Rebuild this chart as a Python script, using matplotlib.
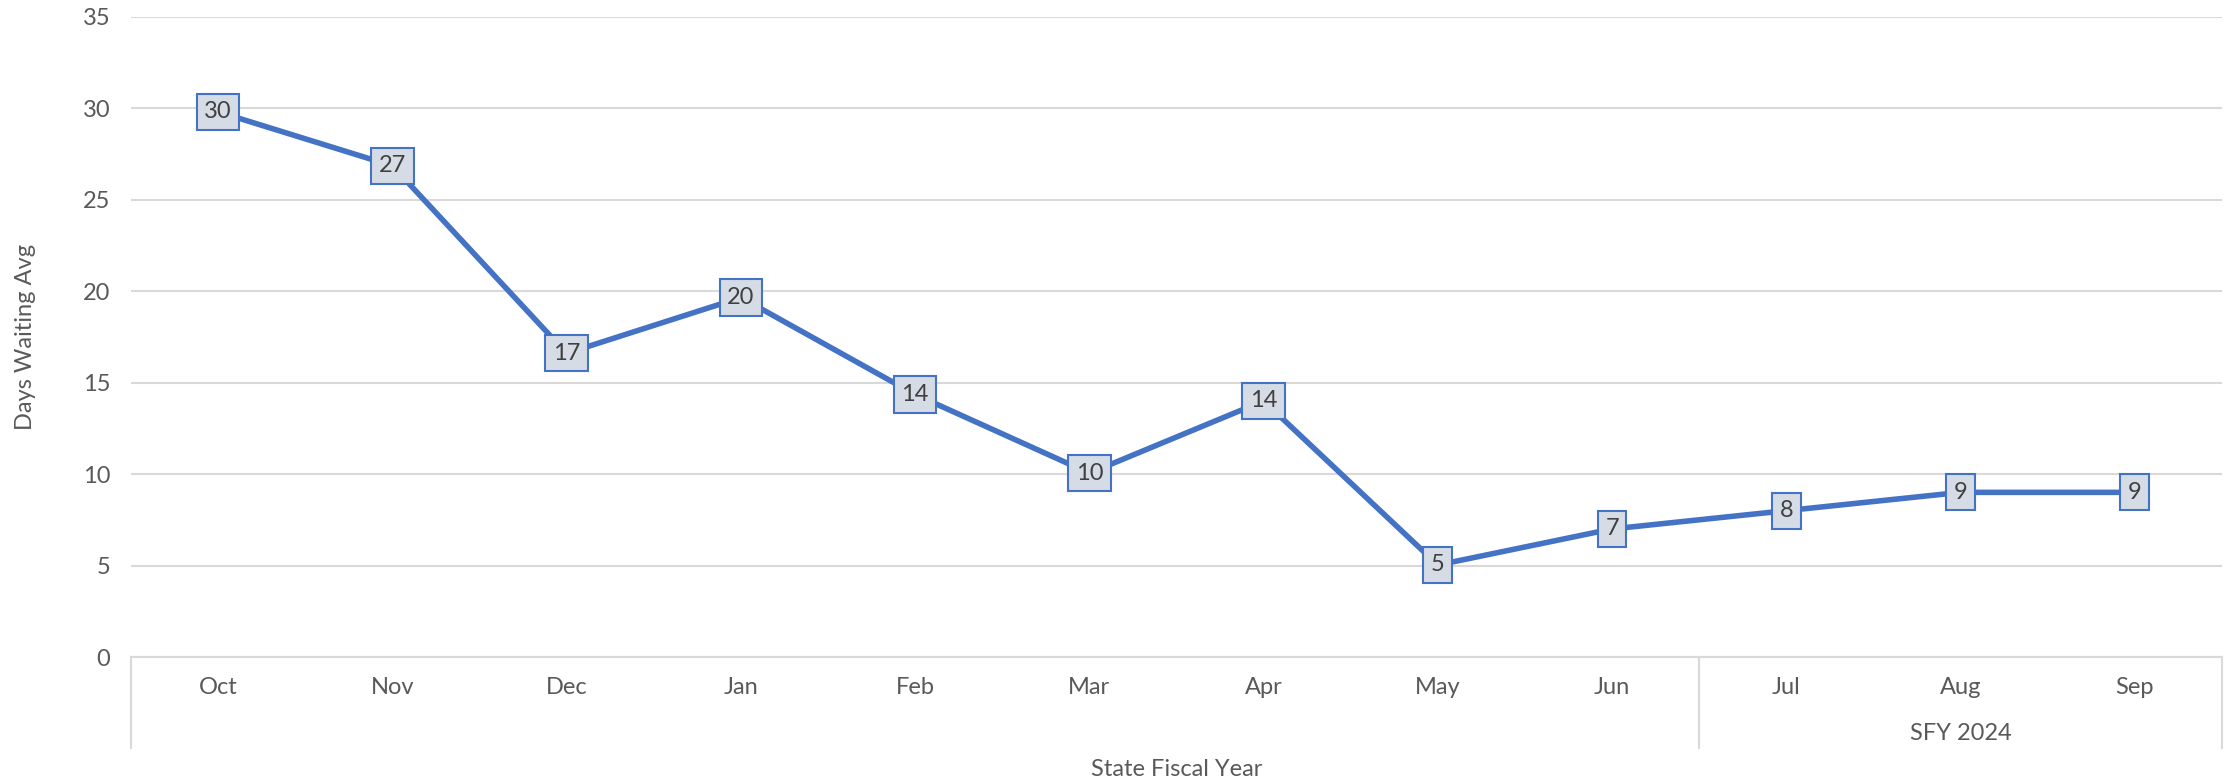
#!/usr/bin/env python3

import matplotlib
matplotlib.use("Agg")
import matplotlib.pyplot as plt

# data
months = ["Oct", "Nov", "Dec", "Jan", "Feb", "Mar", "Apr", "May", "Jun", "Jul", "Aug", "Sep"]
daysWaiting = [29.8, 26.85, 16.6, 19.65, 14.35, 10.05, 14.0, 5.03, 7.0, 8.0, 9.0, 9.0]
groupLabel = "SFY 2024"
groupStart = 9      # Jul starts the labelled group

plt.rcParams['font.family'] = ['Lato', 'DejaVu Sans']

textColor = '#595959'
gridColor = '#d9d9d9'
lineColor = '#4472C4'
fs = 17

fig = plt.figure(figsize=(22.31, 7.83), dpi=100)
ax = fig.add_axes([131/2231, 1 - 657/783, (2222 - 131)/2231, (657 - 16.7)/783])

x = list(range(len(months)))
ax.plot(x, daysWaiting, color=lineColor, linewidth=4, zorder=2)

for xi, v in zip(x, daysWaiting):
    ax.annotate(f"{v:.0f}", (xi, v), ha='center', va='center', fontsize=fs, color='#404040', zorder=3,
                bbox=dict(boxstyle='square,pad=0.32', facecolor='#D6DCE5', edgecolor=lineColor, linewidth=1.5))

ax.set_xlim(-0.5, len(months) - 0.5)
ax.set_ylim(0, 35)
ax.set_yticks(range(0, 36, 5))
ax.tick_params(axis='y', length=0, pad=15, labelsize=fs, labelcolor=textColor)
ax.set_xticks([])
ax.yaxis.grid(True, color=gridColor, linewidth=1.5)
ax.set_axisbelow(True)
for s in ['top', 'right', 'left']:
    ax.spines[s].set_visible(False)
ax.spines['bottom'].set_color(gridColor)
ax.spines['bottom'].set_linewidth(1.5)

# category labels below the axis
trans = ax.get_xaxis_transform()
for xi, m in zip(x, months):
    ax.text(xi, -0.047, m, transform=trans, ha='center', va='center', fontsize=fs, color=textColor)
ax.text((groupStart + len(months) - 1) / 2, -0.120, groupLabel, transform=trans, ha='center', va='center',
        fontsize=fs, color=textColor)

# separators of the category area
for sx in [-0.5, groupStart - 0.5, len(months) - 0.5]:
    ax.plot([sx, sx], [0, -0.142], transform=trans, color=gridColor, linewidth=1.5, clip_on=False)

ax.text(0.5, -0.176, "State Fiscal Year", transform=ax.transAxes, ha='center', va='center',
        fontsize=fs, color=textColor)
fig.text(26/2231, 1 - 337/783, "Days Waiting Avg", rotation=90, ha='center', va='center',
         fontsize=fs, color=textColor)

plt.savefig("out.png", dpi=100)
